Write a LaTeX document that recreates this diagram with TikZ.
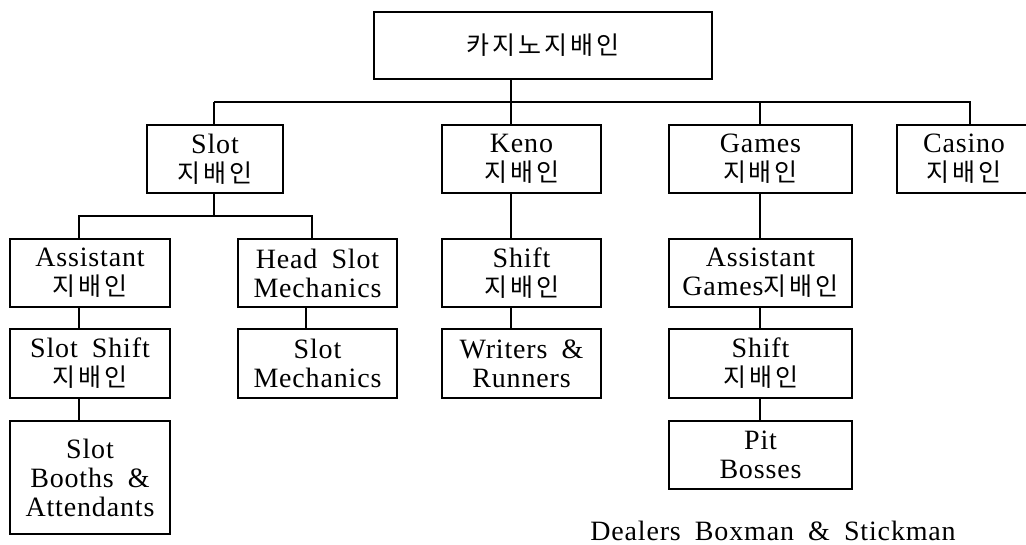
\documentclass[tikz,border=0pt]{standalone}
\usepackage{fontspec}
\setmainfont[LetterSpace=3,WordSpace=1.8]{Liberation Serif}
\newfontfamily\krfont[LetterSpace=12]{Noto Sans CJK KR}
\newcommand\krtext[1]{{\krfont\fontsize{25}{29}\selectfont #1}}
\tikzset{
  box/.style={draw, line width=2pt, inner sep=0pt, align=center,
    font=\fontsize{28}{29}\selectfont, minimum height=68pt},
  conn/.style={line width=1.1pt},
  connb/.style={line width=1.8pt},
  plain/.style={font=\fontsize{28}{29}\selectfont, inner sep=0pt}
}
\begin{document}
\begin{tikzpicture}[x=1pt,y=-1pt]
\useasboundingbox (0,0) rectangle (1026,544);
\node[box, minimum width=338pt, minimum height=67pt] (top) at (543,45.5) {\krtext{카지노지배인}};
\node[box, minimum width=136pt] (slot) at (215,159) {Slot\\\krtext{지배인}};
\node[box, minimum width=159pt] (keno) at (521.5,159) {Keno\\\krtext{지배인}};
\node[box, minimum width=183pt] (games) at (760.5,159) {Games\\\krtext{지배인}};
\node[box, minimum width=134pt] (casino) at (964,159) {Casino\\\krtext{지배인}};
\node[box, minimum width=160pt] (asst) at (90,273) {Assistant\\\krtext{지배인}};
\node[box, minimum width=160pt, minimum height=69pt] (sshift) at (90,363.5) {Slot Shift\\\krtext{지배인}};
\node[box, minimum width=160pt, minimum height=113pt] (booth) at (90,477.5) {Slot\\Booths \&\\Attendants};
\node[box, minimum width=159pt] (head) at (317.5,273) {Head Slot\\Mechanics};
\node[box, minimum width=159pt, minimum height=69pt] (smech) at (317.5,363.5) {Slot\\Mechanics};
\node[box, minimum width=159pt] (kshift) at (521.5,273) {Shift\\\krtext{지배인}};
\node[box, minimum width=159pt, minimum height=69pt] (writers) at (521.5,363.5) {Writers \&\\Runners};
\node[box, minimum width=183pt] (agames) at (760.5,273) {Assistant\\Games\krtext{지배인}};
\node[box, minimum width=183pt, minimum height=69pt] (gshift) at (760.5,363.5) {Shift\\\krtext{지배인}};
\node[box, minimum width=183pt] (pit) at (760.5,455) {Pit\\Bosses};
\node[plain, anchor=base] (dealers) at (773,540) {Dealers Boxman \& Stickman};
\coordinate (bus) at (0,102);
\coordinate (sbus) at (0,216);
\coordinate (kx) at (511,0);
\coordinate (cx) at (970,0);
\coordinate (lx) at (79,0);
\coordinate (hx) at (312,0);
\coordinate (hx2) at (306,0);
\coordinate (sx) at (214,0);
\coordinate (gx) at (760,0);
\draw[conn] (kx |- top.south) -- (kx |- keno.north);
\draw[conn] (sx |- bus) -- (cx |- bus) -- (cx |- casino.north);
\draw[conn] (gx |- bus) -- (gx |- games.north);
\draw[connb] (sx |- bus) -- (sx |- slot.north);
\draw[connb] (sx |- slot.south) -- (sx |- sbus);
\draw[connb] (lx |- asst.north) -- (lx |- sbus) -- (hx |- sbus) -- (hx |- head.north);
\draw[connb] (lx |- asst.south) -- (lx |- sshift.north);
\draw[connb] (lx |- sshift.south) -- (lx |- booth.north);
\draw[connb] (hx2 |- head.south) -- (hx2 |- smech.north);
\draw[conn] (kx |- keno.south) -- (kx |- kshift.north);
\draw[conn] (kx |- kshift.south) -- (kx |- writers.north);
\draw[conn] (gx |- games.south) -- (gx |- agames.north);
\draw[conn] (gx |- agames.south) -- (gx |- gshift.north);
\draw[conn] (gx |- gshift.south) -- (gx |- pit.north);
\end{tikzpicture}
\end{document}
